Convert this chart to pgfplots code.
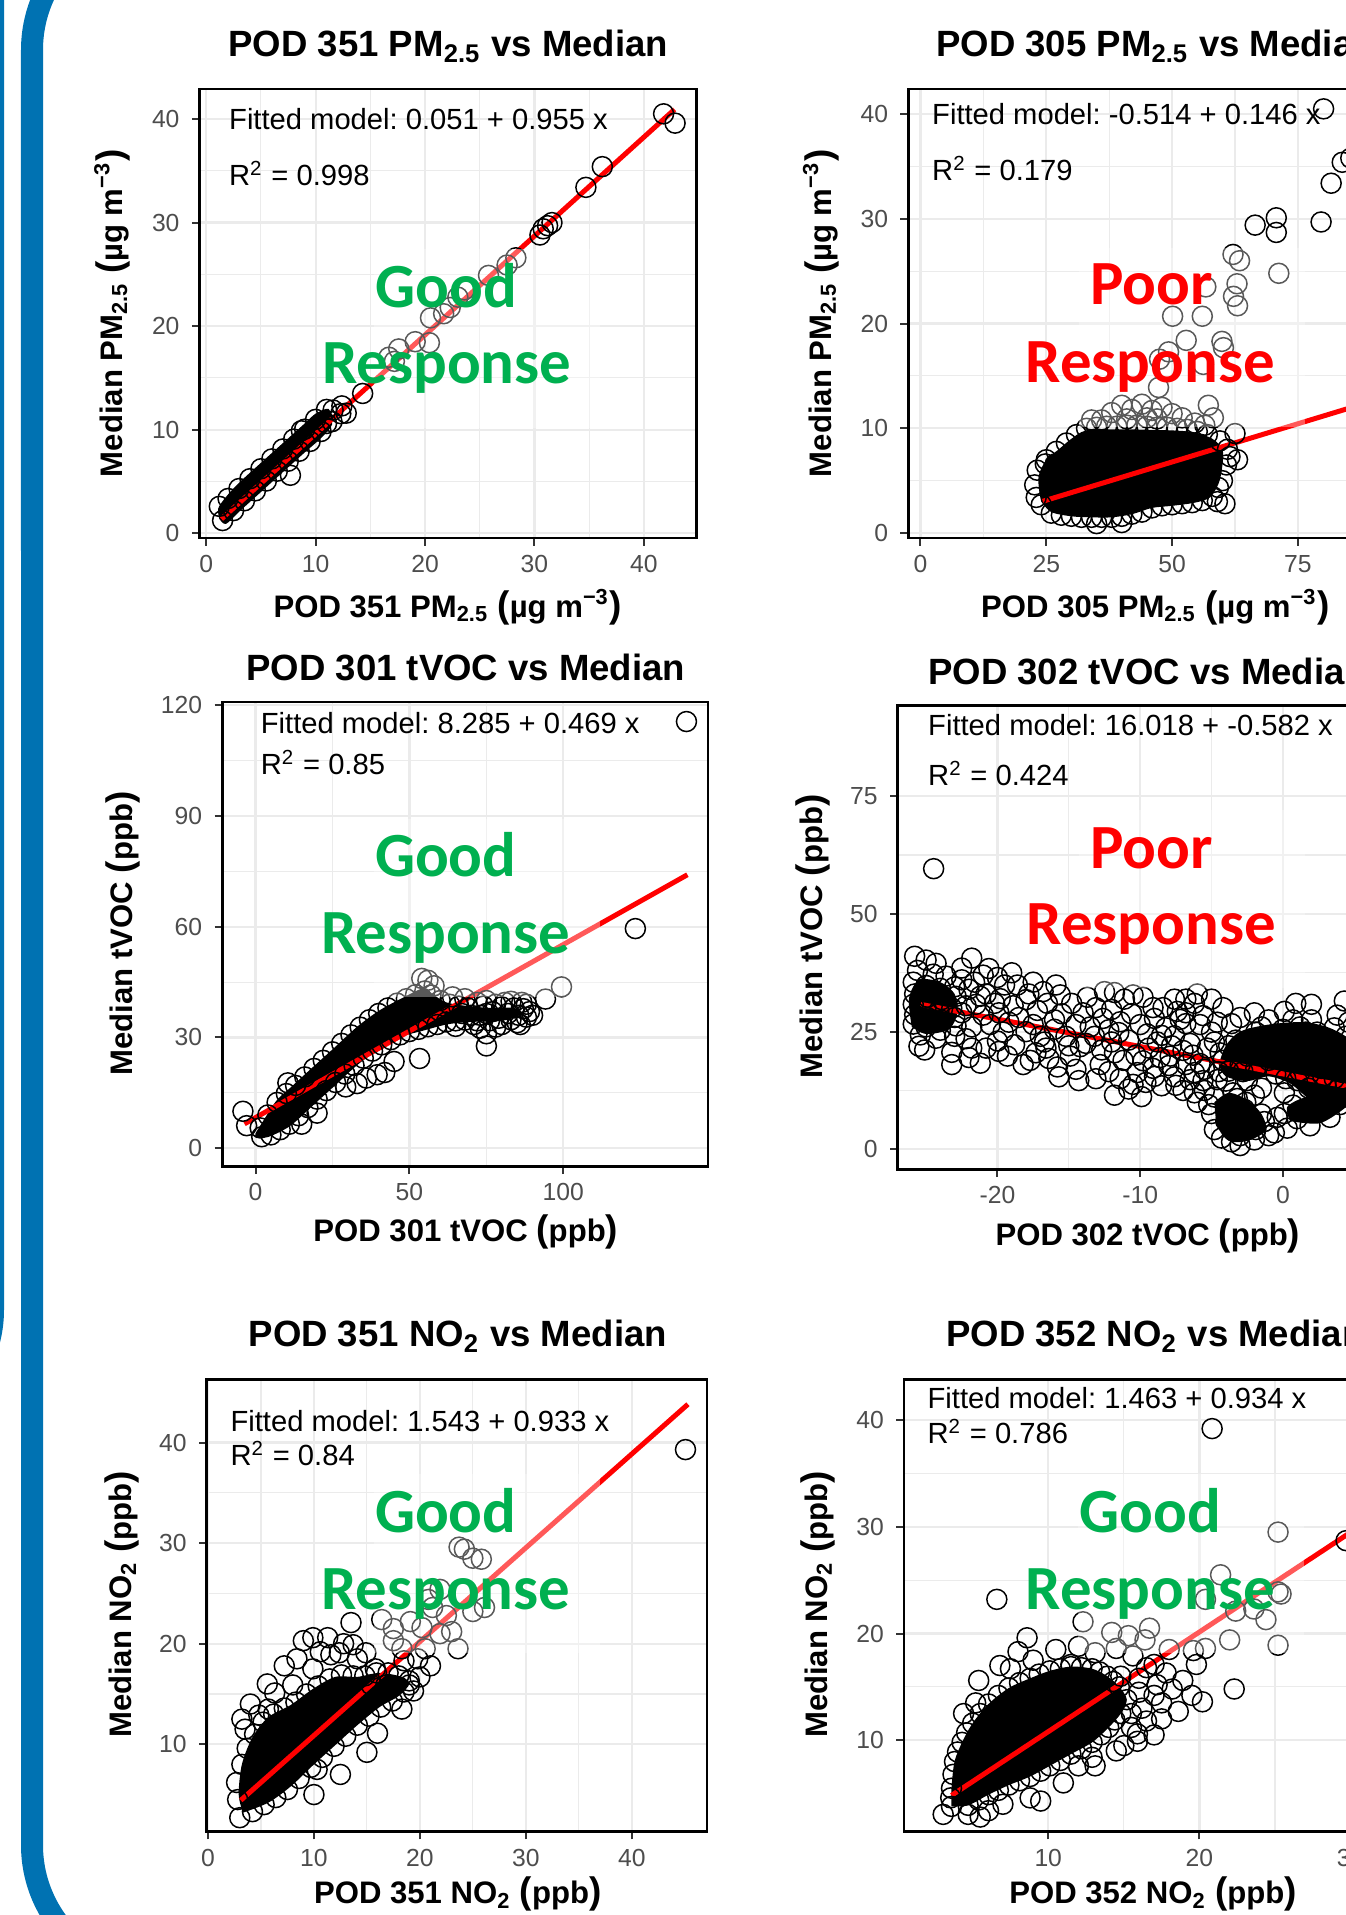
\documentclass[border=0pt]{standalone}
\usepackage{fontspec}
\setmainfont{Liberation Sans}
\newfontfamily\calibri{Carlito}
\usepackage{pgfplots}
\pgfplotsset{compat=1.18}
\frenchspacing

\definecolor{pptblue}{RGB}{0,114,178}
\definecolor{ggrid}{RGB}{235,235,235}
\definecolor{tickc}{RGB}{51,51,51}
\definecolor{ticklab}{RGB}{77,77,77}
\definecolor{goodgreen}{RGB}{0,176,80}

% 1 px of the reference = 0.01cm
\newcommand{\pxy}[2]{({(#1)*0.01},{19.15-(#2)*0.01})}
\newcommand{\ttl}{\bfseries\fontsize{10.4}{12}\selectfont}
\newcommand{\lab}{\bfseries\fontsize{8.85}{10}\selectfont}
\newcommand{\ann}{\fontsize{8.3}{10}\selectfont}
\newcommand{\verdict}{\calibri\bfseries\fontsize{17.9}{20}\selectfont}
\newcommand{\pl}{{\fontsize{10.5}{10}\selectfont(}}
\newcommand{\pr}{{\fontsize{10.5}{10}\selectfont)}}
\newcommand{\ugm}{\pl µg m\textsuperscript{−3}\pr}
\newcommand{\ppb}{\pl ppb\pr}

\pgfplotsset{
  panel/.style={
    scale only axis, anchor=north west,
    grid=both, minor tick num=1,
    major grid style={color=ggrid, line width=0.022cm},
    minor grid style={color=ggrid, line width=0.011cm},
    axis line style={black, line width=0.028cm},
    tick align=outside, major tick length=0.077cm, minor tick length=0pt,
    tick style={color=tickc, line width=0.02cm},
    tick pos=left,
    tick label style={font=\fontsize{7.03}{8}\selectfont, text=ticklab},
    xticklabel style={yshift=0.03cm},
    /pgf/number format/assume math mode=true,
  },
  pts/.style={only marks, mark=o, mark size=0.1cm, mark options={line width=0.015cm, black}},
  blob/.style={fill=black, draw=none, mark=none, smooth, tension=0.5},
  fit/.style={color=red, line width=0.05cm, mark=none},
}

\begin{document}
\begin{tikzpicture}
\useasboundingbox (0,0) rectangle (13.46,19.15);
\clip (0,0) rectangle (13.46,19.15);

% frame of the slide
\draw[pptblue, line width=0.22cm] (1.62,19.95) arc[start angle=90,end angle=180,radius=1.3] -- (0.32,0.70) arc[start angle=180,end angle=270,radius=1.3];
\draw[pptblue, line width=0.04cm] (0.02,19.3) -- (0.02,6.05) arc[start angle=0,end angle=-90,radius=1.3];

% ---------------- POD 351 PM2.5
\begin{axis}[panel, at={(1.996cm,18.26cm)}, width=4.968cm, height=4.49cm,
  xmin=-0.6, xmax=44.8, ymin=-0.45, ymax=42.9,
  xtick={0,10,20,30,40}, ytick={0,10,20,30,40}]
\addplot[blob] coordinates {(1.2,1.4) (1.8,0.9) (3,2.07) (5,3.98) (7,5.9) (9,7.8) (10.5,9.2) (11.5,10.5) (11.2,12.0) (10,11.55) (9,10.6) (7,8.7) (5,6.8) (3,4.87) (1.8,3.5) (1.1,2.4) (1.2,1.4)};
\addplot[pts] coordinates {
(1.5,1.23) (2.5,2.19) (3.5,3.14) (4.5,4.1) (5.5,5.05) (6.5,6.0) (7.5,6.96) (8.5,7.92) (9.5,8.87)
(10.5,9.83) (11.5,10.78) (12.3,11.55)
(1.2,2.6) (2,3.36) (3,4.32) (4,5.27) (5,6.23) (6,7.18) (7,8.14) (8,9.09) (9,10.05) (10,11.0) (11,11.96)
(7.7,5.6) (8.7,9.9) (12.4,12.3) (12.8,11.6) (11.6,11.9) (11,10.6) (14.3,13.5) (16.7,17.0)
(17.6,17.8) (17.2,16.6) (19.1,18.5) (20.4,18.4) (20.5,20.8) (21.7,21.2) (22.3,21.8) (23.0,22.8)
(23.6,23.5) (25.8,24.9) (27.5,25.9) (28.3,26.6) (30.5,28.8) (30.8,29.4) (31.2,29.7) (31.6,30.0)
(34.7,33.4) (36.2,35.4) (41.8,40.5) (42.85,39.6)};
\addplot[fit] coordinates {(1.4,1.388) (42.8,40.925)};
\end{axis}

% ---------------- POD 305 PM2.5
\begin{axis}[panel, at={(9.081cm,18.26cm)}, width=4.97cm, height=4.49cm,
  xmin=-2.45, xmax=96.3, ymin=-0.47, ymax=42.4,
  xtick={0,25,50,75,100}, ytick={0,10,20,30,40}]
\addplot[blob] coordinates {(24,3.0) (26,2.0) (30,1.6) (34,1.5) (38,1.5) (42,1.8) (46,2.4) (50,2.6) (54.5,2.9) (57.5,3.4) (59.3,4.8) (60,6.5) (60,8.0) (58,9.0) (54.5,9.6) (50,9.8) (40,9.9) (33,9.8) (30,9.0) (27.5,8.0) (25,7.0) (23.5,5.5) (23.6,4.0) (24,3.0)};
\addplot[pts] coordinates {
(26,1.9) (28,1.7) (30,1.6) (32,1.5) (34,1.5) (36,1.5) (38,1.5) (40,1.6) (42,1.8) (44,2.0)
(46,2.4) (48,2.6) (50,2.7) (52,2.8) (54,2.9) (56,3.1) (58,3.5) (24,2.7) (60,5) (60.8,6.5) (61,8)
(59.5,8.8) (57,9.4) (55,9.7) (53,9.9) (51,10) (49,10.1) (47,10.1) (45,10.2) (43,10.3) (41,10.3)
(39,10.2) (37,10.2) (35,10.1) (33,10.0) (31,9.4) (29,8.6) (27,7.8) (25,7.0) (23.2,6.0) (22.7,4.6)
(23,3.4) (35,0.9) (40,1.0) (24.8,6.6) (26.8,6.6) (61.5,7.3) (59.2,4.35) (59,3.0)
(38,11.5) (40,12.2) (42,11.8) (44,12.3) (46,11.7) (48,12.0) (50,11.4) (52,11.0) (54.5,10.5)
(45,11.0) (41,10.9) (47,10.9) (34,10.8) (36,10.8) (56.5,10.3)
(80.1,40.5) (83.8,35.4) (81.6,33.4) (79.6,29.7) (66.5,29.4) (70.7,30.1) (70.7,28.7) (71.2,24.8)
(62.1,26.6) (63.4,26.0) (62.9,23.8) (62.2,22.6) (63.0,21.7) (56.7,23.5) (50.1,20.7) (56.0,20.7)
(52.8,18.4) (59.9,18.3) (60.2,17.7) (49.3,17.3) (47.5,16.6) (56.2,16.1) (47.3,13.9) (57.2,12.2)
(58.2,11.0) (85.5,35.8) (62.5,9.5) (63,7.0) (60.5,2.8)};
\addplot[fit] coordinates {(24.3,3.034) (96,13.502)};
\end{axis}

% ---------------- POD 301 tVOC
\begin{axis}[panel, at={(2.223cm,12.13cm)}, width=4.857cm, height=4.645cm,
  xmin=-10.8, xmax=147, ymin=-4.96, ymax=120.9,
  xtick={0,50,100}, ytick={0,30,60,90,120}]
\addplot[blob] coordinates {(0,3.0) (4,3.0) (11.2,6.0) (18.4,11.4) (25.7,16.9) (33,22.5) (40.2,26.9) (47.5,30.2) (54.7,31.9) (62,33.5) (69,34.2) (76,34.3) (82,34.8) (86,36.3) (84,38) (76,38) (69,38.5) (62,39.5) (57.6,41.7) (54.7,43.4) (47.5,40.6) (40.2,37.3) (33,32.9) (25.7,27.3) (18.4,21.8) (11.2,16.3) (6.8,12.9) (2.5,7.4) (0,4) (0,3.0)};
\addplot[pts] coordinates {
(2,3.1) (5,3.6) (8,5) (11,6.5) (14,8.8) (17,11) (20,13.3) (23,15.6) (26,17.8) (29,20.1) (32,22.4)
(35,24.4) (38,26.3) (41,28) (44,29.4) (47,30.7) (50,31.6) (53,32.2) (56,32.9) (59,33.5) (62,34.2)
(65,34.5) (68,34.7)
(1.5,5.5) (4,9) (7,12.4) (10,14.8) (13,17) (16,19.3) (19,21.6) (22,23.8) (25,26.1) (28,28.4)
(31,30.7) (34,32.8) (37,34.8) (40,36.5) (43,38) (46,39.3) (49,40.5) (52,41.6) (55,42.6) (57,41.5)
(60,40) (63,39) (66,38.5) (69,38)
(71,33.5) (73,36) (74,38.5) (76,34.5) (77,37) (79,35.2) (80,38.3) (82,36.5) (83,34.8) (84,38)
(85.5,36) (87,37.8) (88,35.5) (89,37) (86.5,39.5) (78,32.8) (72,39.5) (75,40) (81,39.5) (86,33.5)
(70,36) (72,34.5) (75,36.5) (78,39) (80,33.5) (83,39.8) (85,34) (88,39) (90,36) (73,32.5) (68,40.5)
(64,41) (67,36.5) (65,33)
(75,31) (75,27.7) (53.3,24.3) (39.5,19.9) (29.3,16.6) (99.4,43.7) (94.2,40.4) (123.4,59.5)
(140,115.6) (-2.9,6.1) (-4.1,10) (10.5,17.7) (56,45.5) (58,44) (54,46) (42,20.5) (45,23.5)
(36,19) (33,17.5) (20,9.5) (15,6.5)};
\addplot[fit] coordinates {(-3.6,6.597) (140.3,74.086)};
\end{axis}

% ---------------- POD 302 tVOC
\begin{axis}[panel, at={(8.978cm,12.097cm)}, width=4.85cm, height=4.641cm,
  xmin=-26.98, xmax=7.0, ymin=-4.25, ymax=94.3,
  xtick={-20,-10,0}, ytick={0,25,50,75}]
\addplot[blob] coordinates {(-26,26) (-25,24.5) (-23.4,25.5) (-22.8,29) (-23,33) (-24,35.5) (-25.5,36) (-26.2,32) (-26,26)};
\addplot[blob] coordinates {(-4.5,18) (-4,22) (-3,25) (-1,26.5) (1.5,27) (3.5,25.5) (5,22) (5,14) (4,11) (2.5,9.5) (1.5,11.5) (0.5,14) (-1,15.5) (-2.5,14.5) (-4,15.5) (-4.5,18)};
\addplot[blob] coordinates {(0.5,6) (2.5,5.5) (4,8) (5,11) (3.5,12) (1.5,11) (0.3,9) (0.5,6)};
\addplot[blob] coordinates {(-4.8,10) (-4.6,5) (-3.8,1.8) (-2.5,1.8) (-1.2,4) (-1.5,7.5) (-2.5,10.5) (-3.8,12) (-4.8,10)};
\addplot[pts] coordinates {
(-25.8,41.0) (-25.0,40.2) (-24.3,39.5) (-25.6,38.0) (-24.5,37.2) (-23.6,36.8) (-22.5,36.0) (-25.9,35.5)
(-25.0,34.8) (-24.0,34.2) (-23.0,34.5) (-22.0,34.0) (-25.8,33.0) (-24.9,32.3) (-23.9,31.8) (-22.9,32.5)
(-25.9,30.8) (-25.0,30.0) (-24.1,29.4) (-23.2,30.0) (-22.2,30.5) (-25.8,28.6) (-24.9,28.0) (-23.9,27.4)
(-23.0,28.0) (-25.9,26.6) (-25.0,26.0) (-24.0,25.3) (-22.9,26.2) (-25.4,24.3) (-24.3,23.6) (-25.5,21.9)
(-25.1,21.1) (-23.2,20.6) (-23.2,18.0) (-24.47,59.6) (-21.8,40.6) (-20.6,38.4) (-21.6,35.5) (-20.8,33.0)
(-21.5,30.8) (-21.0,28.5) (-21.8,26.0) (-21.8,21.5) (-20.8,21.5) (-22.2,23.5)
(-19.5,34.9) (-18.6,34.9) (-19.8,32.0) (-18.9,30.5) (-19.9,29.0) (-18.5,28.0) (-19.6,24.9) (-19.3,19.8)
(-18.2,18.0) (-17.7,18.9) (-17.5,26.5) (-16.6,21.5) (-16.4,19.3) (-16.7,22.8) (-17.2,29.5) (-16.5,31.0)
(-15.9,34.9) (-15.6,32.8) (-15.7,15.4) (-14.3,14.6) (-14.9,19.8) (-15.2,24.0) (-14.5,26.5) (-16.0,27.5)
(-18.0,31.8) (-20.5,26.5) (-20,23)
(-22.5,38.5) (-21,37) (-20,36.5) (-19,37.5) (-17.5,35.5) (-16.8,33.5) (-17.8,33) (-19.2,27) (-18,25)
(-17,24) (-16,25.5) (-15,22) (-14.2,21.8) (-13.2,24) (-14,29) (-14.8,31) (-15.5,28.8) (-20.2,31)
(-21.2,32.5) (-22.5,29) (-23,24) (-22,19.5) (-21.2,18.3) (-19.9,20.8) (-18.8,22.2) (-17.3,20.5)
(-15.8,17.5) (-14.5,17)
(-13.1,15.0) (-13.7,32.3) (-13.1,30.1) (-12.7,21.1) (-12.2,25.4) (-12.0,29.7) (-11.1,31.9) (-10.5,32.8)
(-9.8,32.3) (-9.1,30.1) (-11.4,27.1) (-12.0,22.8) (-10.8,23.2) (-11.2,18.9) (-10.8,12.8) (-11.4,15.0)
(-10.2,16.3) (-9.1,17.2) (-9.4,21.5) (-8.8,22.8) (-8.2,25.8) (-8.4,30.1) (-13.5,26.0) (-12.8,18.0)
(-10.0,26.5) (-9.0,27.8) (-10.3,20.0) (-9.6,14.2) (-13.8,22.5) (-11.8,11.5) (-9.9,11.2) (-8.5,13.5) (-8.6,19.5)
(-12.5,33.5) (-11.8,33.3) (-12.6,27.8) (-11.5,24.8) (-10.6,28.8) (-9.5,24.5) (-8.5,24.2) (-7.8,22)
(-7,21) (-8,17.8) (-9.8,18.8) (-11.8,20.5) (-12.2,16.5) (-10.5,13.8) (-9,15.5) (-7.5,13.6) (-6.5,14.8)
(-6.2,12) (-5.2,9.5) (-6.8,29) (-5.8,26.5) (-6,33) (-4.6,27) (-4.8,22.8) (-5.5,17) (-4.6,14.8) (-3.8,16.6)
(-7.6,31.9) (-6.8,31.9) (-6.2,31.0) (-7.4,29.3) (-6.8,26.7) (-7.6,24.1) (-7.9,19.8) (-6.8,18.0)
(-7.6,15.4) (-6.2,16.3) (-5.6,14.6) (-5.3,21.5) (-5.0,24.9) (-5.6,28.4) (-5.0,31.9) (-4.2,30.1)
(-3.6,26.7) (-3.3,23.2) (-4.2,18.9) (-4.8,11.1) (-5.0,7.6) (-4.8,4.2) (-4.3,2.4) (-3.6,1.6)
(-3.0,2.9) (-2.5,4.2) (-3.3,5.9) (-3.9,8.5) (-2.7,8.5) (-6.5,22.5) (-7.0,12.5) (-6.0,10.0)
(-5.5,12.5) (-4.0,14.5) (-4.5,16.5) (-3.5,12.0) (-4.0,6.0) (-2.0,2.0) (-3.0,0.8) (-6.3,20.0)
(-7.2,27.6) (-4.4,20.5) (-3.8,22.0) (-5.8,18.2) (-2.6,10.0) (-3.2,10.8)
(-1.9,4.2) (-1.0,2.9) (-1.3,5.9) (-0.4,6.8) (-2.5,14.6) (-1.9,17.2) (-2.5,19.8) (-1.0,18.9)
(-0.4,22.4) (-1.9,24.9) (-1.0,27.5) (0.1,29.3) (0.9,31.0) (2.0,30.8) (0.7,27.5) (1.6,24.9)
(0.7,21.5) (1.6,18.0) (1.0,14.6) (0.1,12.0) (0.7,9.4) (0.1,7.6) (1.9,5.0) (1.6,8.5)
(2.4,11.1) (3.0,13.7) (2.7,17.2) (3.0,20.6) (2.4,24.9) (3.6,25.8) (4.2,21.5) (4.2,16.3)
(3.9,12.8) (4.3,31.5) (-2.0,21.5) (-0.5,24.5) (-1.5,26.0) (0.0,25.5) (1.2,26.0) (2.0,27.5)
(3.0,23.0) (3.5,18.5) (2.0,21.0) (0.2,19.5) (-0.5,16.0) (0.2,15.0) (1.8,13.0) (3.2,10.5)
(2.5,8.0) (4.0,9.5) (1.0,6.5) (0.3,4.5) (-0.6,3.5) (-1.5,7.5) (-2.0,11.5) (-1.5,13.0)
(4.4,14.0) (4.4,18.5) (4.4,24.0) (4.6,27.0) (3.8,28.5) (4.6,11.0) (3.6,15.0) (2.8,15.5)
(-2.8,16.5) (-3.0,18.0) (-2.2,23.5) (-3.0,28.0) (-2.0,29.0) (1.0,22.8) (2.2,19.5) (1.2,16.5)
(3.3,6.8) (5.2,12.5) (5.5,20) (5.5,26) (6,16)};
\addplot[fit] coordinates {(-25.4,30.801) (7,11.944)};
\end{axis}

% ---------------- POD 351 NO2
\begin{axis}[panel, at={(2.067cm,5.358cm)}, width=5.003cm, height=4.526cm,
  xmin=-0.12, xmax=47.1, ymin=1.3, ymax=46.3,
  xtick={0,10,20,30,40}, ytick={10,20,30,40}]
\addplot[blob] coordinates {(3.3,3.2) (5.7,4.2) (7.8,5.8) (9.9,7.9) (12,9.9) (14.1,11.9) (16.2,13.7) (18,14.8) (19,16) (18.3,16.7) (16.2,17.1) (14.1,16.7) (12,16.7) (9.9,15.5) (7.8,13.9) (5.7,12.7) (4.2,10.7) (3.2,8) (2.9,5) (3.3,3.2)};
\addplot[pts] coordinates {
(3.2,8) (3.7,9.6) (4.4,11) (5.2,12.2) (6.2,13) (7.2,13.6) (8.3,14.2) (9.3,15) (10.4,15.8) (11.5,16.5)
(12.6,16.9) (13.7,16.8) (14.8,16.8) (15.9,17.1) (17,17.1) (18,16.8) (19,16.3)
(3,2.7) (4.2,3.3) (5.3,4) (6.4,4.7) (7.5,5.5) (8.6,6.6) (9.7,7.7) (10.8,8.7) (11.9,9.8) (13,10.8)
(14.1,11.9) (15.2,12.8) (16.3,13.7) (17.4,14.3) (18.5,15.2) (2.8,4.5) (2.7,6.2)
(45.07,39.3) (23.7,29.6) (24.2,29.4) (25.0,28.5) (25.8,28.4) (21.9,25.4) (20.8,24.4) (21.2,23.6)
(22.5,22.8) (25.0,23.2) (26.1,23.6) (23.0,21.2) (21.9,21.0) (23.6,19.5) (20.2,21.6) (19.1,22.2)
(16.4,22.4) (13.5,22.1) (17.5,21.5) (17.5,20.3) (19.8,18.5) (18.3,19.5) (20.0,16.7) (18.3,13.5)
(16.0,11.1) (10.3,7.5) (9.0,20.3) (9.9,20.6) (11.3,20.6) (8.4,18.5) (11.6,18.9) (12.4,19.1)
(5.6,16.0) (6.3,15.1) (4.8,12.9) (5.7,13.5) (3.5,11.5) (8.0,15.9) (9.9,17.5) (13.7,19.9)
(14.1,18.5) (14.9,19.1) (15.8,17.5) (15.4,15.9) (16.8,15.9) (18.5,18.3) (19.0,15.9) (19.4,15.3)
(7.2,17.8) (10.6,19.2) (12.8,20.0) (20.5,19.5) (21.0,17.8) (10.0,5.0) (12.5,7.0) (15.0,9.2)
(4.0,14.0) (3.2,12.5)};
\addplot[fit] coordinates {(3.1,4.435) (45.3,43.808)};
\end{axis}

% ---------------- POD 352 NO2
\begin{axis}[panel, at={(9.04cm,5.358cm)}, width=5.01cm, height=4.526cm,
  xmin=0.46, xmax=33.6, ymin=1.42, ymax=43.83,
  xtick={10,20,30}, ytick={10,20,30,40}]
\addplot[blob] coordinates {(3.6,3.8) (4.7,3.9) (6.05,4.9) (7.4,5.8) (8.8,6.6) (10.1,7.6) (11.5,8.7) (12.9,9.8) (14,11.2) (14.8,12.5) (15.2,13.8) (14.7,15) (13.9,16) (12.9,16.7) (11.5,16.9) (10.1,16.5) (8.8,15.8) (7.4,14.9) (6.05,13.4) (5.0,11.6) (4.3,9.8) (3.8,8.0) (3.6,5.5) (3.6,3.8)};
\addplot[pts] coordinates {
(3.6,3.8) (4.7,3.9) (5.4,4.4) (6.05,4.9) (6.7,5.3) (7.4,5.8) (8.1,6.2) (8.8,6.6) (9.5,7.1) (10.1,7.6)
(10.8,8.1) (11.5,8.7) (12.2,9.2) (12.9,9.8) (13.5,10.5) (14,11.2) (14.4,11.9) (14.8,12.5) (15.2,13.8)
(14.7,15) (14.3,15.5) (13.9,16) (13.4,16.4) (12.9,16.7) (12.2,16.8) (11.5,16.9) (10.8,16.7) (10.1,16.5)
(9.4,16.2) (8.8,15.8) (8.1,15.4) (7.4,14.9) (6.7,14.2) (6.05,13.4) (5.5,12.5) (5.0,11.6) (4.6,10.7)
(4.3,9.8) (4.0,8.9) (3.8,8.0) (3.7,6.8) (3.6,5.5) (3.55,4.6) (3.05,3.05) (4.7,3.05)
(20.84,39.2) (6.6,23.2) (12.3,21.1) (8.6,19.6) (25.2,29.5) (21.4,25.5) (25.2,23.9) (25.4,23.7)
(24.4,21.3) (23.6,22.3) (22.4,22.1) (20.4,23.2) (25.2,18.9) (22.3,14.8) (20.2,13.6) (22.0,19.4)
(20.4,18.6) (19.6,18.4) (19.8,17.1) (18.9,15.6) (18.6,12.7) (16.7,20.5) (16.4,19.4) (15.3,19.8)
(14.2,20.1) (14.5,18.6) (13.1,18.2) (15.6,17.9) (17.0,17.1) (17.8,16.3) (17.2,15.2) (15.9,10.6)
(15.9,9.9) (12.9,8.4) (13.1,7.6) (12.0,7.6) (8.8,4.6) (6.05,3.4) (5.4,15.6) (7.5,16.7)
(9.0,17.5) (11.5,17.1) (4.4,12.5) (5.2,13.5) (29.7,28.7) (16,14.5) (17.5,13.5) (15.5,12.5)
(16.5,16.8) (18.0,18.5) (14.8,16.0) (10.5,18.5) (12.0,18.8) (7.0,4.0) (5.5,2.8) (11.0,6.0)
(9.5,4.3) (14.5,9.0) (16.5,11.8) (19.5,14.2) (8.0,18.3) (6.8,17.0)
(16.2,13) (17,14.2) (16,15.8) (17.5,12) (18.2,14.8) (15.5,11.2) (17,10.5) (15,9.5)};
\addplot[fit] coordinates {(3.6,4.825) (33,32.285)};
\end{axis}

% semi-transparent boxes behind the verdicts
\foreach \cx/\by in {446/384, 1152/383, 446/954, 1152/945, 446/1610, 1151/1610}{
  \fill[white, opacity=0.35] \pxy{\cx-72}{\by-135} rectangle \pxy{\cx+154}{\by+44};
}

\begin{scope}[every node/.style={inner sep=0pt}]
% titles
\node[anchor=base] at \pxy{448.5}{57} {\ttl POD 351 PM\textsubscript{2.5} vs Median};
\node[anchor=base west] at \pxy{936}{57} {\ttl POD 305 PM\textsubscript{2.5} vs Median};
\node[anchor=base] at \pxy{466}{681} {\ttl POD 301 tVOC vs Median};
\node[anchor=base west] at \pxy{928}{685} {\ttl POD 302 tVOC vs Median};
\node[anchor=base] at \pxy{458}{1347} {\ttl POD 351 NO\textsubscript{2} vs Median};
\node[anchor=base west] at \pxy{946}{1347} {\ttl POD 352 NO\textsubscript{2} vs Median};

% axis titles
\node[anchor=base] at \pxy{448}{618} {\lab POD 351 PM\textsubscript{2.5} \ugm};
\node[anchor=base] at \pxy{1156}{618} {\lab POD 305 PM\textsubscript{2.5} \ugm};
\node[anchor=base] at \pxy{466}{1242} {\lab POD 301 tVOC \ppb};
\node[anchor=base] at \pxy{1148.5}{1246} {\lab POD 302 tVOC \ppb};
\node[anchor=base] at \pxy{458}{1905} {\lab POD 351 NO\textsubscript{2} \ppb};
\node[anchor=base] at \pxy{1153.6}{1905} {\lab POD 352 NO\textsubscript{2} \ppb};
\node[anchor=base, rotate=90] at \pxy{123}{313.5} {\lab Median PM\textsubscript{2.5} \ugm};
\node[anchor=base, rotate=90] at \pxy{832}{313.5} {\lab Median PM\textsubscript{2.5} \ugm};
\node[anchor=base, rotate=90] at \pxy{133}{934} {\lab Median tVOC \ppb};
\node[anchor=base, rotate=90] at \pxy{823}{937} {\lab Median tVOC \ppb};
\node[anchor=base, rotate=90] at \pxy{132}{1605.5} {\lab Median NO\textsubscript{2} \ppb};
\node[anchor=base, rotate=90] at \pxy{828}{1605.5} {\lab Median NO\textsubscript{2} \ppb};

% fitted models
\node[anchor=base west] at \pxy{228.6}{130} {\ann Fitted model: 0.051 + 0.955 x};
\node[anchor=base west] at \pxy{228.6}{185.7} {\ann R\textsuperscript{2} = 0.998};
\node[anchor=base west] at \pxy{932}{124.5} {\ann Fitted model: -0.514 + 0.146 x};
\node[anchor=base west] at \pxy{932}{181} {\ann R\textsuperscript{2} = 0.179};
\node[anchor=base west] at \pxy{260.3}{734} {\ann Fitted model: 8.285 + 0.469 x};
\node[anchor=base west] at \pxy{260.3}{775} {\ann R\textsuperscript{2} = 0.85};
\node[anchor=base west] at \pxy{928}{736} {\ann Fitted model: 16.018 + -0.582 x};
\node[anchor=base west] at \pxy{928}{786} {\ann R\textsuperscript{2} = 0.424};
\node[anchor=base west] at \pxy{230}{1432} {\ann Fitted model: 1.543 + 0.933 x};
\node[anchor=base west] at \pxy{230}{1466} {\ann R\textsuperscript{2} = 0.84};
\node[anchor=base west] at \pxy{927.4}{1409} {\ann Fitted model: 1.463 + 0.934 x};
\node[anchor=base west] at \pxy{927.4}{1444} {\ann R\textsuperscript{2} = 0.786};

% verdicts
\node[anchor=base, text=goodgreen] at \pxy{446.5}{308} {\verdict Good};
\node[anchor=base, text=goodgreen] at \pxy{447}{384} {\verdict Response};
\node[anchor=base, text=red] at \pxy{1152}{305} {\verdict Poor};
\node[anchor=base, text=red] at \pxy{1151}{383} {\verdict Response};
\node[anchor=base, text=goodgreen] at \pxy{446}{877} {\verdict Good};
\node[anchor=base, text=goodgreen] at \pxy{446}{954} {\verdict Response};
\node[anchor=base, text=red] at \pxy{1152}{869} {\verdict Poor};
\node[anchor=base, text=red] at \pxy{1152}{945} {\verdict Response};
\node[anchor=base, text=goodgreen] at \pxy{446}{1533} {\verdict Good};
\node[anchor=base, text=goodgreen] at \pxy{446}{1610} {\verdict Response};
\node[anchor=base, text=goodgreen] at \pxy{1151}{1533} {\verdict Good};
\node[anchor=base, text=goodgreen] at \pxy{1151}{1610} {\verdict Response};
\end{scope}
\end{tikzpicture}
\end{document}
